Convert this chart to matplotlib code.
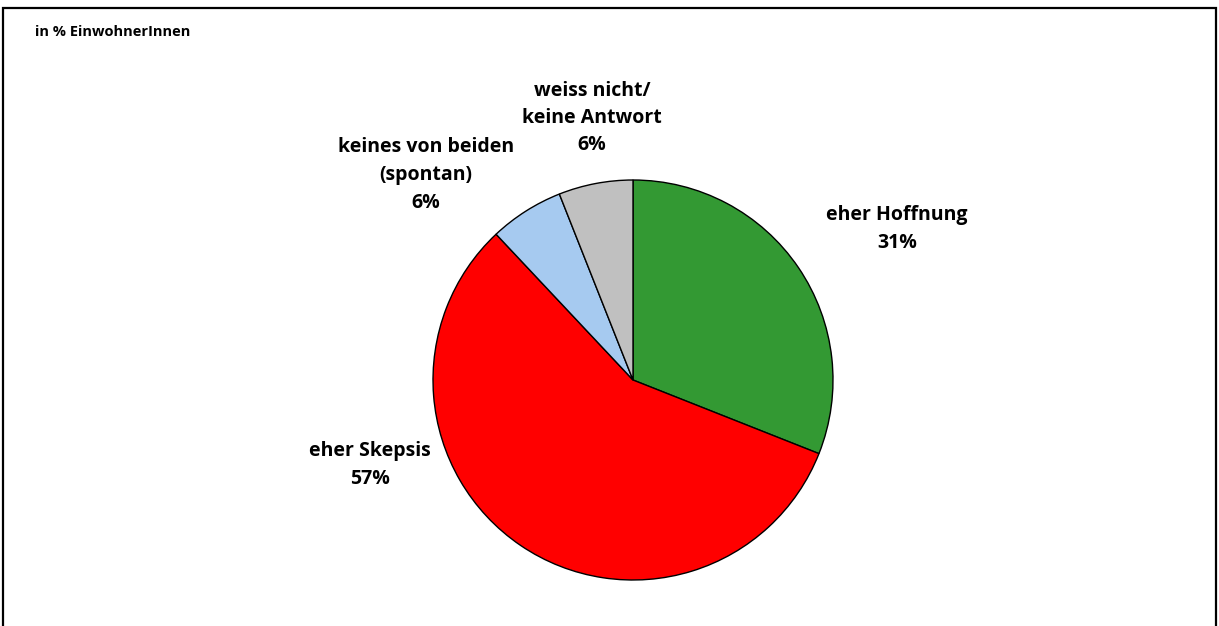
import matplotlib
matplotlib.use("Agg")
import matplotlib.pyplot as plt
from matplotlib.patches import Rectangle

# data
categories = ["eher Hoffnung", "eher Skepsis", "keines von beiden\n(spontan)", "weiss nicht/\nkeine Antwort"]
values = [31, 57, 6, 6]
colors = ["#339933", "#FF0000", "#A6CAF0", "#C0C0C0"]
subtitle = "in % EinwohnerInnen"

W, H = 1219, 626
fig = plt.figure(figsize=(W / 100, H / 100), dpi=100)
plt.rcParams["font.family"] = ["Open Sans", "DejaVu Sans"]

# frame round the chart area
fig.patches.append(Rectangle((3 / W, -0.1), (1216 - 3) / W, (H - 8) / H + 0.1,
                             transform=fig.transFigure, fill=False,
                             edgecolor="black", linewidth=1.6))

# pie: centre (633, 380) px, radius 200 px
cx, cy, r = 633, 380, 200
ax = fig.add_axes([(cx - r) / W, (H - cy - r) / H, 2 * r / W, 2 * r / H])
wedges, _ = ax.pie(values, colors=colors, startangle=90, counterclock=False,
                   wedgeprops=dict(edgecolor="black", linewidth=1.0))
ax.set_xlim(-1, 1)
ax.set_ylim(-1, 1)
ax.set_aspect("equal")
ax.axis("off")

# labels (pixel centres)
label_pos = [(897, 229), (370, 465), (426, 175), (592, 118)]
for cat, val, (x, y) in zip(categories, values, label_pos):
    fig.text(x / W, 1 - y / H, f"{cat}\n{val}%", ha="center", va="center",
             fontsize=14, fontweight="bold", linespacing=1.5)

fig.text(35 / W, 1 - 32 / H, subtitle, ha="left", va="center",
         fontsize=10.5, fontweight="bold")

fig.savefig("out.png", dpi=100)
